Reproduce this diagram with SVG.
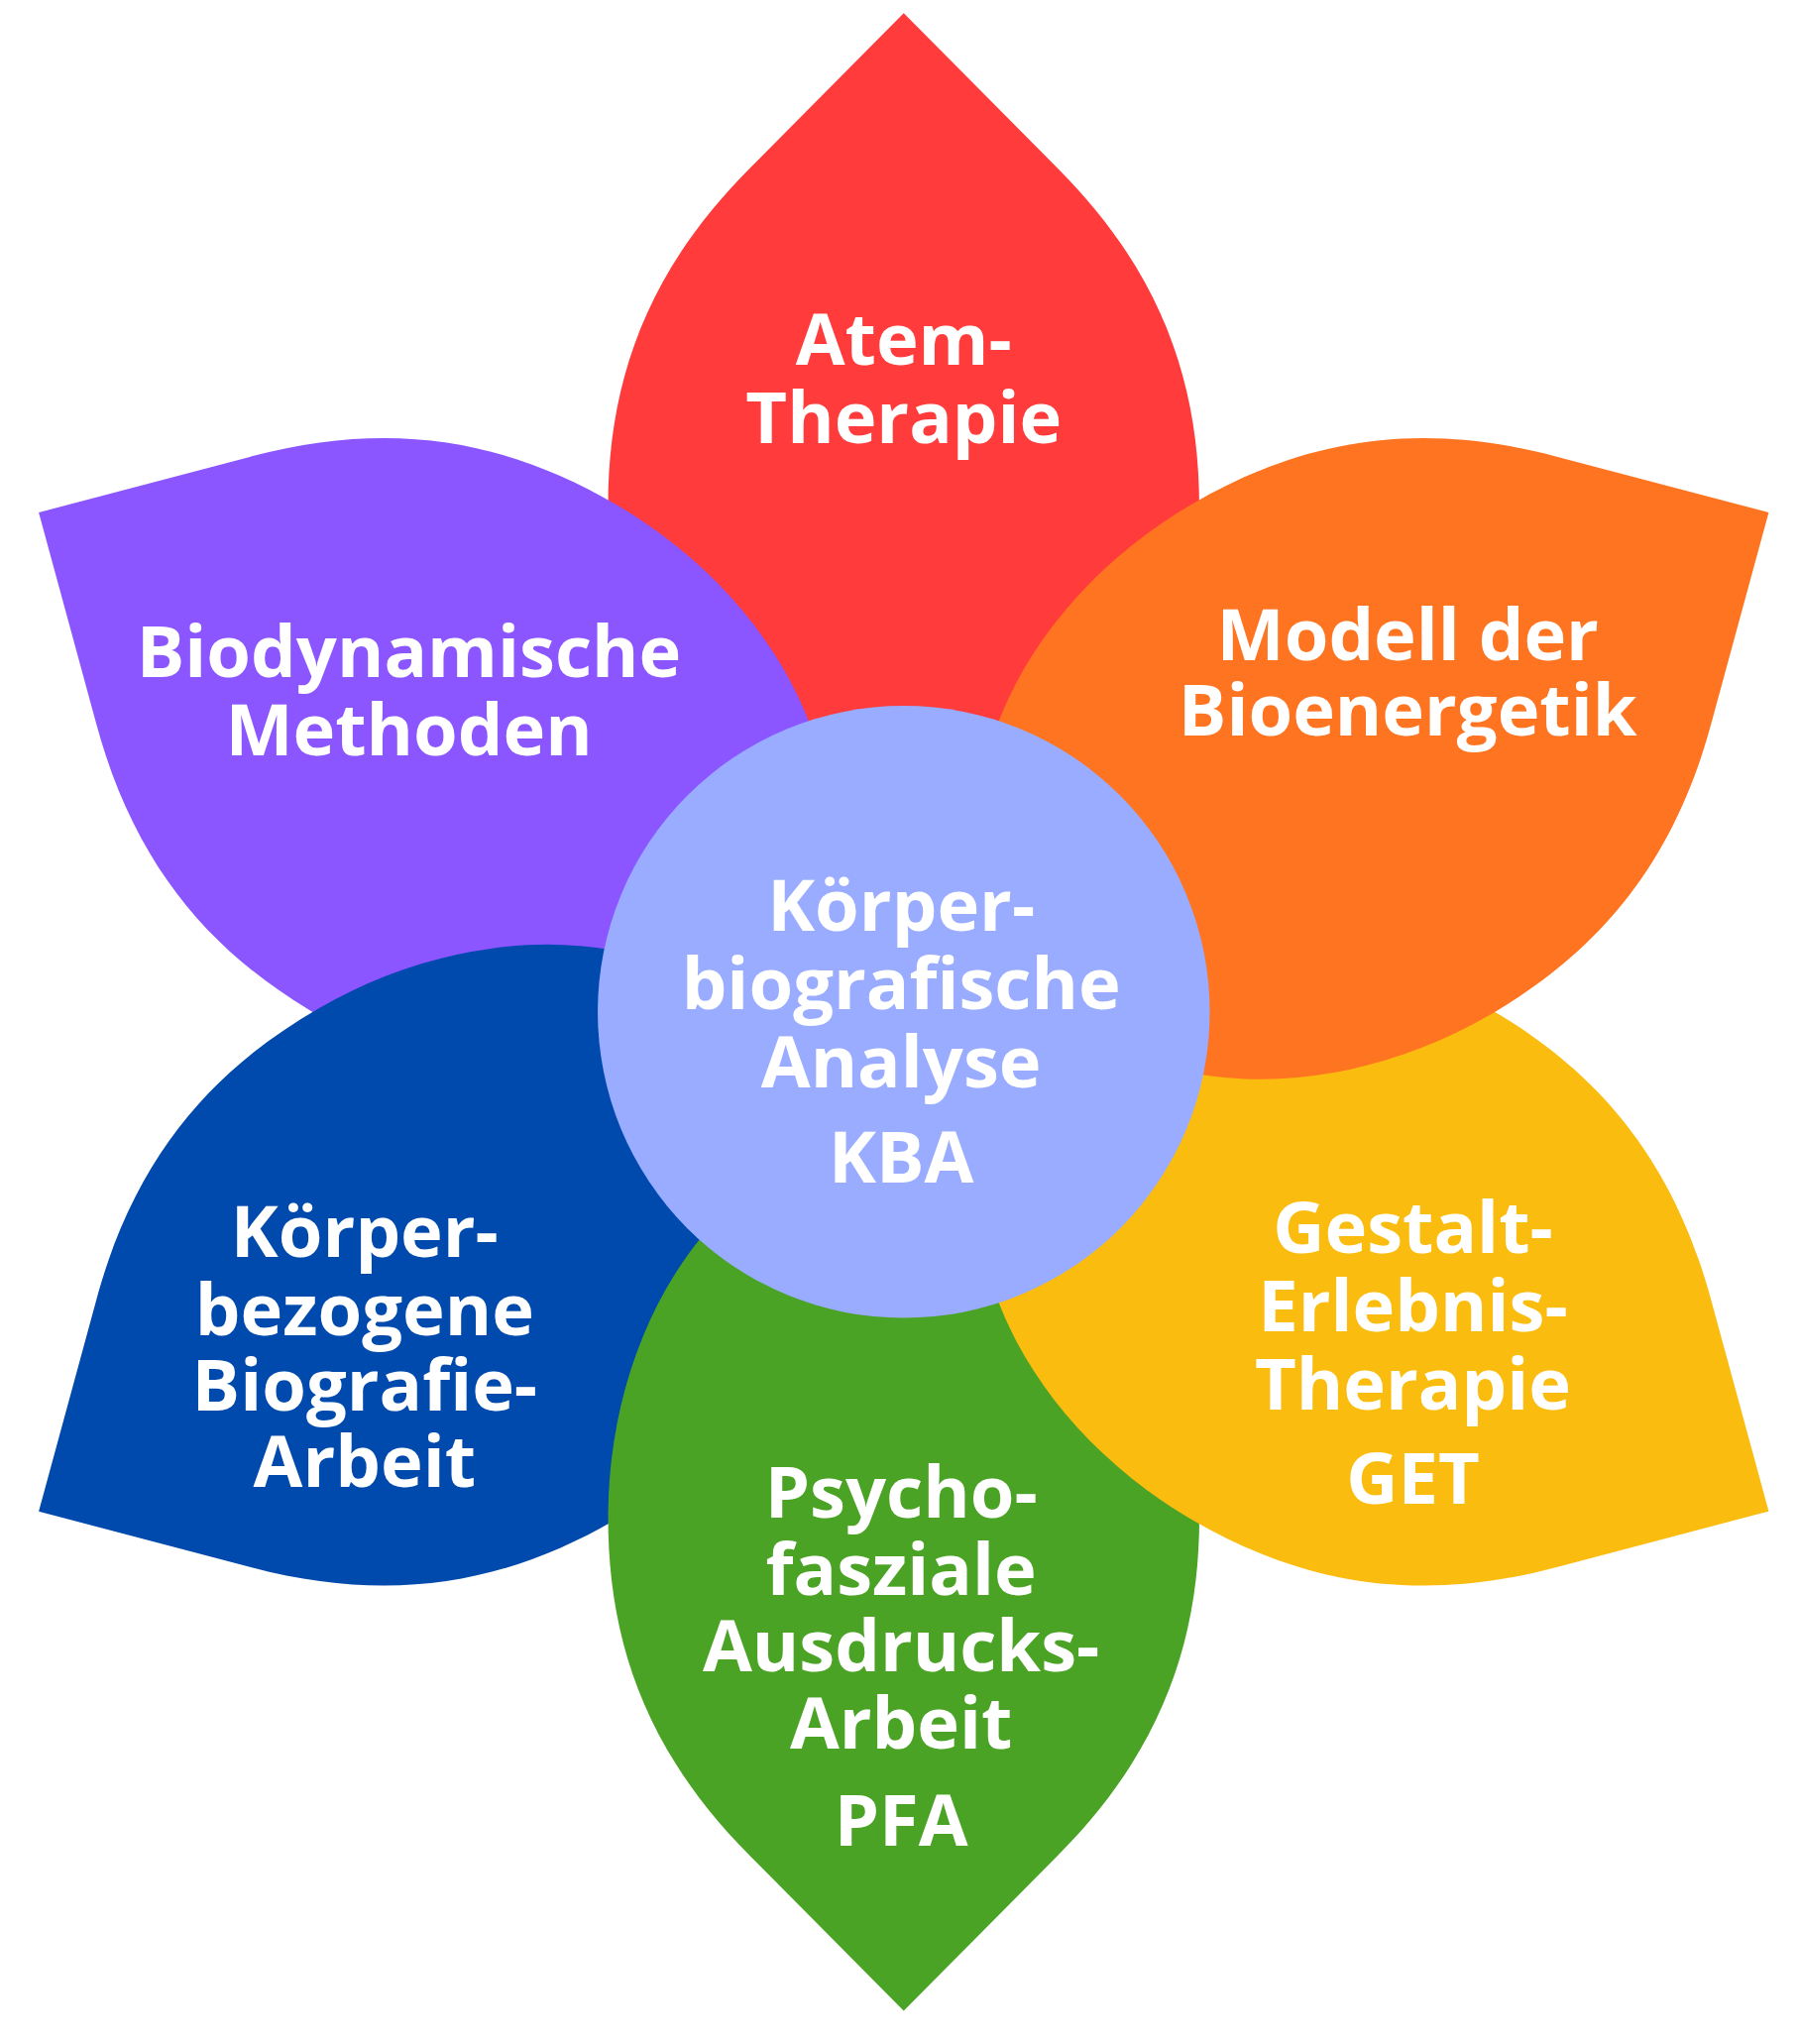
<svg xmlns="http://www.w3.org/2000/svg" width="1813" height="2062" viewBox="0 0 1813 2062">
<style>
text{font-family:"Open Sans","Noto Sans","Liberation Sans",sans-serif;font-weight:bold;font-size:55px;fill:#fff;text-anchor:middle}
</style>
<defs>
<path id="petal" d="M0,-767 L-118,-648 C-200,-566 -227,-480 -227,-388 A227,295 0 0 0 227,-388 C227,-480 200,-566 118,-648 Z"/>
</defs>
<rect width="1813" height="2062" fill="#fff"/>
<g transform="scale(1.3138)">
<g transform="translate(694,777)">
<use id="red" href="#petal" fill="#FF3B3B"/>
<use id="purple" href="#petal" fill="#8B55FF" transform="rotate(300)"/>
<use id="blue" href="#petal" fill="#0049AD" transform="rotate(240)"/>
<use id="green" href="#petal" fill="#4BA325" transform="rotate(180)"/>
<use id="yellow" href="#petal" fill="#FBBC10" transform="rotate(120)"/>
<use id="orange" href="#petal" fill="#FF7420" transform="rotate(60)"/>
<circle id="center" r="235" fill="#99ACFF"/>
</g>
<g id="t-red"><text x="694" y="280">Atem-</text><text x="694" y="340">Therapie</text></g>
<g id="t-orange"><text x="1081" y="507">Modell der</text><text x="1081" y="565">Bioenergetik</text></g>
<g id="t-purple"><text x="314" y="520">Biodynamische</text><text x="314" y="580">Methoden</text></g>
<g id="t-center"><text x="692" y="715">Körper-</text><text x="692" y="775">biografische</text><text x="692" y="835">Analyse</text><text x="692" y="908">KBA</text></g>
<g id="t-yellow"><text x="1085" y="962">Gestalt-</text><text x="1085" y="1022">Erlebnis-</text><text x="1085" y="1082">Therapie</text><text x="1085" y="1155">GET</text></g>
<g id="t-blue"><text x="280" y="965">Körper-</text><text x="280" y="1025">bezogene</text><text x="280" y="1083">Biografie-</text><text x="280" y="1142">Arbeit</text></g>
<g id="t-green"><text x="692" y="1165">Psycho-</text><text x="692" y="1225">fasziale</text><text x="692" y="1283">Ausdrucks-</text><text x="692" y="1343">Arbeit</text><text x="692" y="1417">PFA</text></g>
</g>
</svg>
